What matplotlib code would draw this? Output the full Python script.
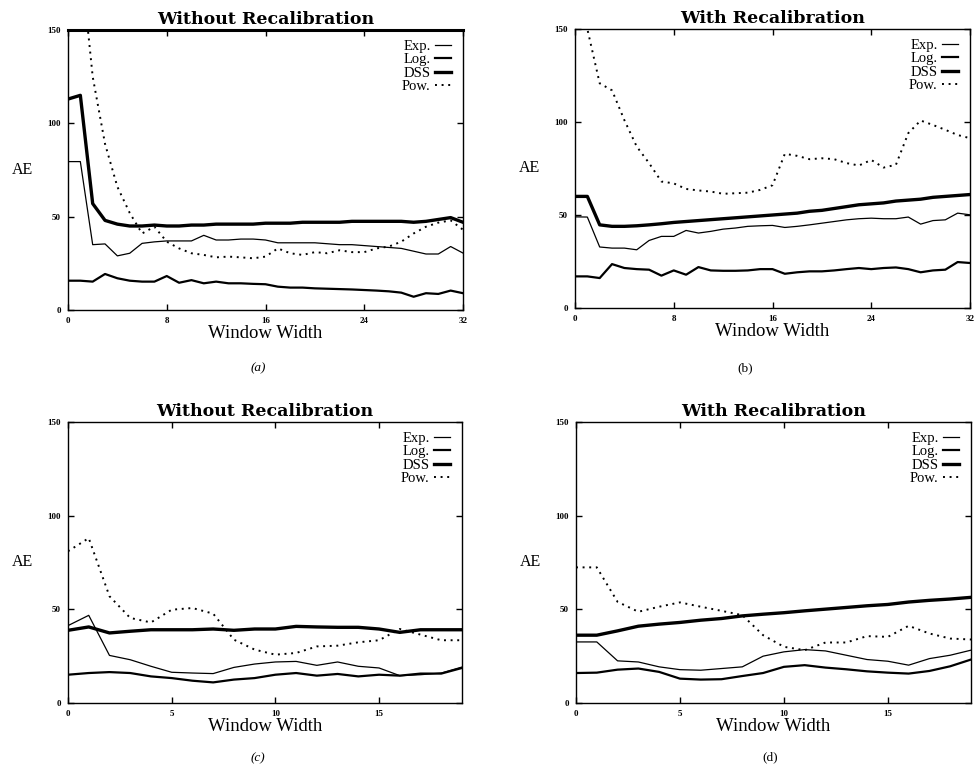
import numpy as np
import matplotlib
matplotlib.use('Agg')
import matplotlib.pyplot as plt

plt.rcParams['font.family'] = ['Liberation Serif', 'DejaVu Serif']

# window widths
win_a = list(range(33))
win_c = list(range(20))

# (a) without recalibration, widths 0..32
exp_a = [79.5, 79.5, 35, 35.4, 29, 30.4, 35.7, 36.5, 37, 37, 37, 40, 37.5, 37.5, 38, 38,
         37.5, 36, 36, 36, 36, 35.5, 35, 35, 34.5, 34, 33.5, 33, 31.5, 30, 30, 34, 30.5]
log_a = [15.7, 15.7, 15.2, 19.3, 17, 15.7, 15.2, 15.2, 18.2, 14.6, 16, 14.3, 15.2, 14.3, 14.3, 14,
         13.8, 12.5, 12, 12, 11.6, 11.4, 11.2, 11, 10.7, 10.4, 10, 9.3, 7.1, 9, 8.6, 10.4, 9]
dss_a = [113, 115, 57, 48, 46, 45, 45, 45.5, 45, 45, 45.5, 45.5, 46, 46, 46, 46,
         46.5, 46.5, 46.5, 47, 47, 47, 47, 47.5, 47.5, 47.5, 47.5, 47.5, 47, 47.5, 48.5, 49.5, 47]
pow_a = [260, 190, 125, 89, 66, 52, 41, 44.6, 36.6, 33, 30.4, 29.5, 28.2, 28.6, 28.2, 27.7,
         28.6, 33, 30.4, 29.5, 31, 30.4, 32, 31, 31, 33, 34, 36.6, 41, 44.6, 46.8, 48, 43]

# (b) with recalibration, widths 0..32
exp_b = [49, 48.9, 32.8, 32.2, 32.2, 31.3, 36.3, 38.5, 38.5, 41.7, 40.3, 41.2, 42.4, 43, 43.9, 44.2,
         44.4, 43.3, 43.9, 44.7, 45.6, 46.5, 47.4, 48, 48.3, 48, 48, 48.9, 45.1, 47, 47.4, 51, 50.1]
log_b = [17, 17, 16.1, 23.6, 21.5, 20.9, 20.6, 17.4, 20.2, 17.9, 22, 20.2, 20, 20, 20.2, 20.9,
         20.9, 18.4, 19.2, 19.7, 19.7, 20.2, 20.9, 21.5, 20.9, 21.5, 21.8, 20.9, 19.2, 20.2, 20.6, 24.7, 24.2]
dss_b = [60, 60, 44.7, 43.9, 43.9, 44.2, 44.7, 45.3, 46, 46.5, 47, 47.5, 48, 48.5, 49, 49.5,
         50, 50.5, 51, 52, 52.5, 53.5, 54.5, 55.5, 56, 56.5, 57.5, 58, 58.5, 59.5, 60, 60.5, 61]
pow_b = [175, 150, 120.8, 117, 101, 86.8, 77.9, 68, 67, 64, 63.2, 62.6, 61.4, 61.7, 62, 63.5,
         66, 82.9, 81.8, 80, 80.5, 80, 77.9, 76.6, 79.6, 75.5, 77, 94, 100.8, 98.4, 95.8, 93, 91.3]

# (c) without recalibration, widths 0..19
exp_c = [41.3, 46.8, 25.4, 23.1, 19.6, 16.4, 16, 15.7, 19, 20.8, 21.9, 22.2, 20.1, 21.9, 19.6,
         18.7, 14.6, 15.1, 16, 19.2]
log_c = [15.1, 16, 16.5, 16, 14.2, 13.3, 11.9, 11, 12.5, 13.3, 15.1, 16, 14.6, 15.5, 14.2,
         15.1, 14.6, 15.7, 15.7, 18.7]
dss_c = [38.8, 40.6, 37.4, 38.3, 39.1, 39.1, 39.1, 39.5, 38.8, 39.5, 39.5, 40.9, 40.6, 40.4, 40.4,
         39.5, 37.7, 39.1, 39.1, 39.1]
pow_c = [81, 88, 57, 45.4, 43, 49.8, 50.7, 47.7, 33.8, 28.5, 25.8, 26.7, 30.2, 30.6, 32.4,
         33.5, 39.5, 36.5, 33.5, 33.5]

# (d) with recalibration, widths 0..19
exp_d = [32.6, 32.6, 22.5, 21.9, 19.3, 17.8, 17.5, 18.4, 19.3, 25, 27.3, 28.5, 27.8, 25.5, 23.2,
         22.3, 20.2, 23.7, 25.5, 28.2]
log_d = [16, 16.2, 17.8, 18.4, 16.6, 13, 12.5, 12.7, 14.4, 16, 19.3, 20.2, 18.9, 18, 16.9,
         16.2, 15.7, 17.1, 19.6, 23.2]
dss_d = [36.2, 36.2, 38.5, 41, 42.1, 43, 44.2, 45.1, 46.5, 47.4, 48.2, 49.2, 50.1, 51, 51.9,
         52.6, 53.9, 54.8, 55.5, 56.4]
pow_d = [72.4, 72.4, 54, 48.7, 51.4, 53.7, 51.4, 49.2, 46.9, 36.2, 30, 28.2, 32.3, 32.3, 35.7,
         35.3, 41.2, 37.1, 34.4, 33.9]

titles = ['Without Recalibration', 'With Recalibration', 'Without Recalibration', 'With Recalibration']
captions = ['(a)', '(b)', '(c)', '(d)']

W, H = 976, 768
fig = plt.figure(figsize=(W / 100, H / 100), dpi=100)

# axes boxes in pixels: left, top, right, bottom
boxes = [(68, 30, 463, 310), (575, 29, 970, 308), (68, 422, 462, 703), (576, 422, 971, 703)]
cap_pos = [(258, 368, 'italic'), (745, 368, 'normal'), (258, 758, 'italic'), (770, 757, 'normal')]

panels = [
    (win_a, exp_a, log_a, dss_a, pow_a, [0, 8, 16, 24, 32], 32),
    (win_a, exp_b, log_b, dss_b, pow_b, [0, 8, 16, 24, 32], 32),
    (win_c, exp_c, log_c, dss_c, pow_c, [0, 5, 10, 15], 19),
    (win_c, exp_d, log_d, dss_d, pow_d, [0, 5, 10, 15], 19),
]

for i, (x, e, l, d, p, xt, xmax) in enumerate(panels):
    l0, t0, r0, b0 = boxes[i]
    ax = fig.add_axes([l0 / W, 1 - b0 / H, (r0 - l0) / W, (b0 - t0) / H])
    ax.plot(x, e, color='black', lw=0.9, label='Exp.')
    ax.plot(x, l, color='black', lw=1.6, label='Log.')
    ax.plot(x, d, color='black', lw=2.4, label='DSS')
    ax.plot(x, p, color='black', lw=1.4, linestyle=(0, (1, 2.4)), label='Pow.')
    ax.set_xlim(0, xmax)
    ax.set_ylim(0, 150)
    ax.set_xticks(xt)
    ax.set_yticks([0, 50, 100, 150])
    ax.tick_params(direction='in', length=4, width=1, top=True, right=True,
                   labelsize=6.5, pad=5)
    for lab in ax.get_xticklabels() + ax.get_yticklabels():
        lab.set_fontweight('bold')
    for s in ax.spines.values():
        s.set_linewidth(1.0)
    if i == 0:
        ax.spines['top'].set_linewidth(2.2)
    ax.set_title(titles[i], fontsize=12.5, fontweight='bold', pad=4, family='DejaVu Serif')
    ax.set_xlabel('Window Width', fontsize=13.5, labelpad=0)
    ax.set_ylabel('AE', fontsize=11.5, rotation=0, va='center', ha='center')
    ax.yaxis.set_label_coords(-0.115, 0.5)
    ax.legend(loc='upper right', frameon=False, markerfirst=False, fontsize=10.5,
              handlelength=1.1, handletextpad=0.3, labelspacing=0.0,
              borderaxespad=0.0, bbox_to_anchor=(0.985, 0.985))
    cx, cy, st = cap_pos[i]
    fig.text(cx / W, 1 - cy / H, captions[i], fontsize=9.5, style=st, ha='center', va='center')

plt.savefig('out.png', dpi=100)
plt.close('all')
